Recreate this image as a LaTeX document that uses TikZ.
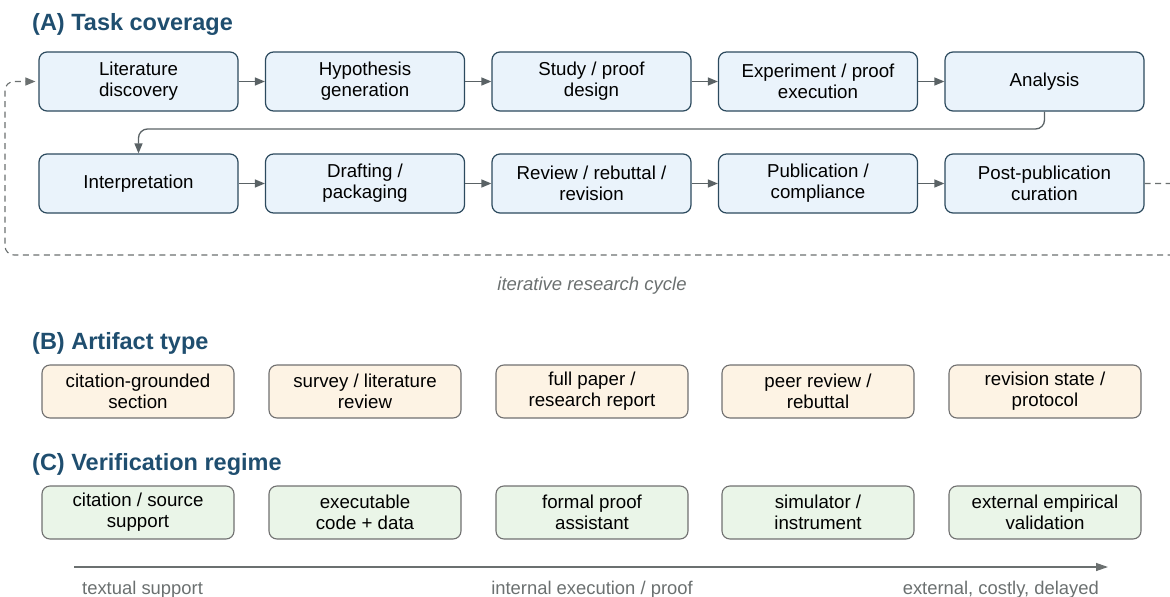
\documentclass[tikz,border=0pt]{standalone}
\usepackage{fontspec}
\setmainfont{Liberation Sans}
\usetikzlibrary{arrows.meta}
\definecolor{headblue}{HTML}{1F4E6F}
\definecolor{afill}{HTML}{EAF3FB}
\definecolor{adraw}{HTML}{2C4A5E}
\definecolor{bfill}{HTML}{FDF3E4}
\definecolor{cfill}{HTML}{EAF5E8}
\definecolor{bdraw}{HTML}{707070}
\definecolor{conncol}{HTML}{5A6265}
\definecolor{labgray}{HTML}{6B7070}
\begin{document}
\begin{tikzpicture}[x=1pt,y=-1pt,
  boxtext/.style={font=\fontsize{18.7}{21}\selectfont, align=center, text=black, inner sep=0pt},
  abox/.style={boxtext, draw=adraw, fill=afill, line width=1.2pt, rounded corners=8pt, minimum width=199pt, minimum height=59pt},
  bbox/.style={boxtext, draw=bdraw, fill=bfill, line width=1.1pt, rounded corners=8pt, minimum width=192pt, minimum height=53pt},
  cbox/.style={boxtext, draw=bdraw, fill=cfill, line width=1.1pt, rounded corners=8pt, minimum width=192pt, minimum height=53pt},
  conn/.style={draw=conncol, line width=1.3pt, -{Triangle[length=10pt,width=8pt]}},
  loopline/.style={draw=labgray, line width=1.1pt, dash pattern=on 6pt off 4.5pt, rounded corners=9pt, -{Triangle[length=10pt,width=8pt]}},
  heading/.style={font=\fontsize{23.5}{27}\bfseries\selectfont, text=headblue, anchor=base west, inner sep=0pt},
  note/.style={font=\fontsize{18.4}{21}\selectfont, text=labgray, inner sep=0pt}
]
\useasboundingbox (0,0) rectangle (1170,597);
% headings
\node[heading] (hA) at (32,30) {(A) Task coverage};
\node[heading] (hB) at (32,349) {(B) Artifact type};
\node[heading] (hC) at (32,470) {(C) Verification regime};
% row A1
\node[abox] (a1) at (138.5,81.5) {Literature\\discovery};
\node[abox] (a2) at (365,81.5) {Hypothesis\\generation};
\node[abox] (a3) at (591.5,81.5) {Study / proof\\design};
\node[abox] (a4) at (818,81.5) {Experiment / proof\\execution};
\node[abox] (a5) at (1044.5,81.5) {Analysis};
% row A2
\node[abox] (a6) at (138.5,183.5) {Interpretation};
\node[abox] (a7) at (365,183.5) {Drafting /\\packaging};
\node[abox] (a8) at (591.5,183.5) {Review / rebuttal /\\revision};
\node[abox] (a9) at (818,183.5) {Publication /\\compliance};
\node[abox] (a10) at (1044.5,183.5) {Post-publication\\curation};
% arrows
\draw[conn] (a1) -- (a2);
\draw[conn] (a2) -- (a3);
\draw[conn] (a3) -- (a4);
\draw[conn] (a4) -- (a5);
\draw[conn] (a6) -- (a7);
\draw[conn] (a7) -- (a8);
\draw[conn] (a8) -- (a9);
\draw[conn] (a9) -- (a10);
\draw[conn, rounded corners=9pt] (a5.south) -- (a5.south |- 0,129) -- (a6.north |- 0,129) -- (a6.north);
% loop
\coordinate (lr1) at (1185,183.5);
\coordinate (lr2) at (1185,255);
\coordinate (ll1) at (5,255);
\coordinate (ll2) at (5,81.5);
\draw[loopline, shorten >=3pt] (a10.east) -- (lr1) -- (lr2) -- (ll1) -- (ll2) -- (a1.west);
\node[note, font=\fontsize{18.5}{21}\itshape\selectfont, anchor=base] (cyc) at (592,290) {iterative research cycle};
% row B
\node[bbox] (b1) at (138,391.5) {citation-grounded\\section};
\node[bbox] (b2) at (365,391.5) {survey / literature\\review};
\node[bbox] (b3) at (592,391.5) {full paper /\\research report};
\node[bbox] (b4) at (818,391.5) {peer review /\\rebuttal};
\node[bbox] (b5) at (1045,391.5) {revision state /\\protocol};
% row C
\node[cbox] (c1) at (138,512.5) {citation / source\\support};
\node[cbox] (c2) at (365,512.5) {executable\\code + data};
\node[cbox] (c3) at (592,512.5) {formal proof\\assistant};
\node[cbox] (c4) at (818,512.5) {simulator /\\instrument};
\node[cbox] (c5) at (1045,512.5) {external empirical\\validation};
% axis
\coordinate (ax1) at (74,567);
\coordinate (ax2) at (1108,567);
\draw[draw=labgray, line width=1.3pt, -{Triangle[length=12pt,width=8pt]}] (ax1) -- (ax2);
\node[note, anchor=base west] (l1) at (82,594) {textual support};
\node[note, anchor=base] (l2) at (592,594) {internal execution / proof};
\node[note, anchor=base east] (l3) at (1099,594) {external, costly, delayed};
\end{tikzpicture}
\end{document}
